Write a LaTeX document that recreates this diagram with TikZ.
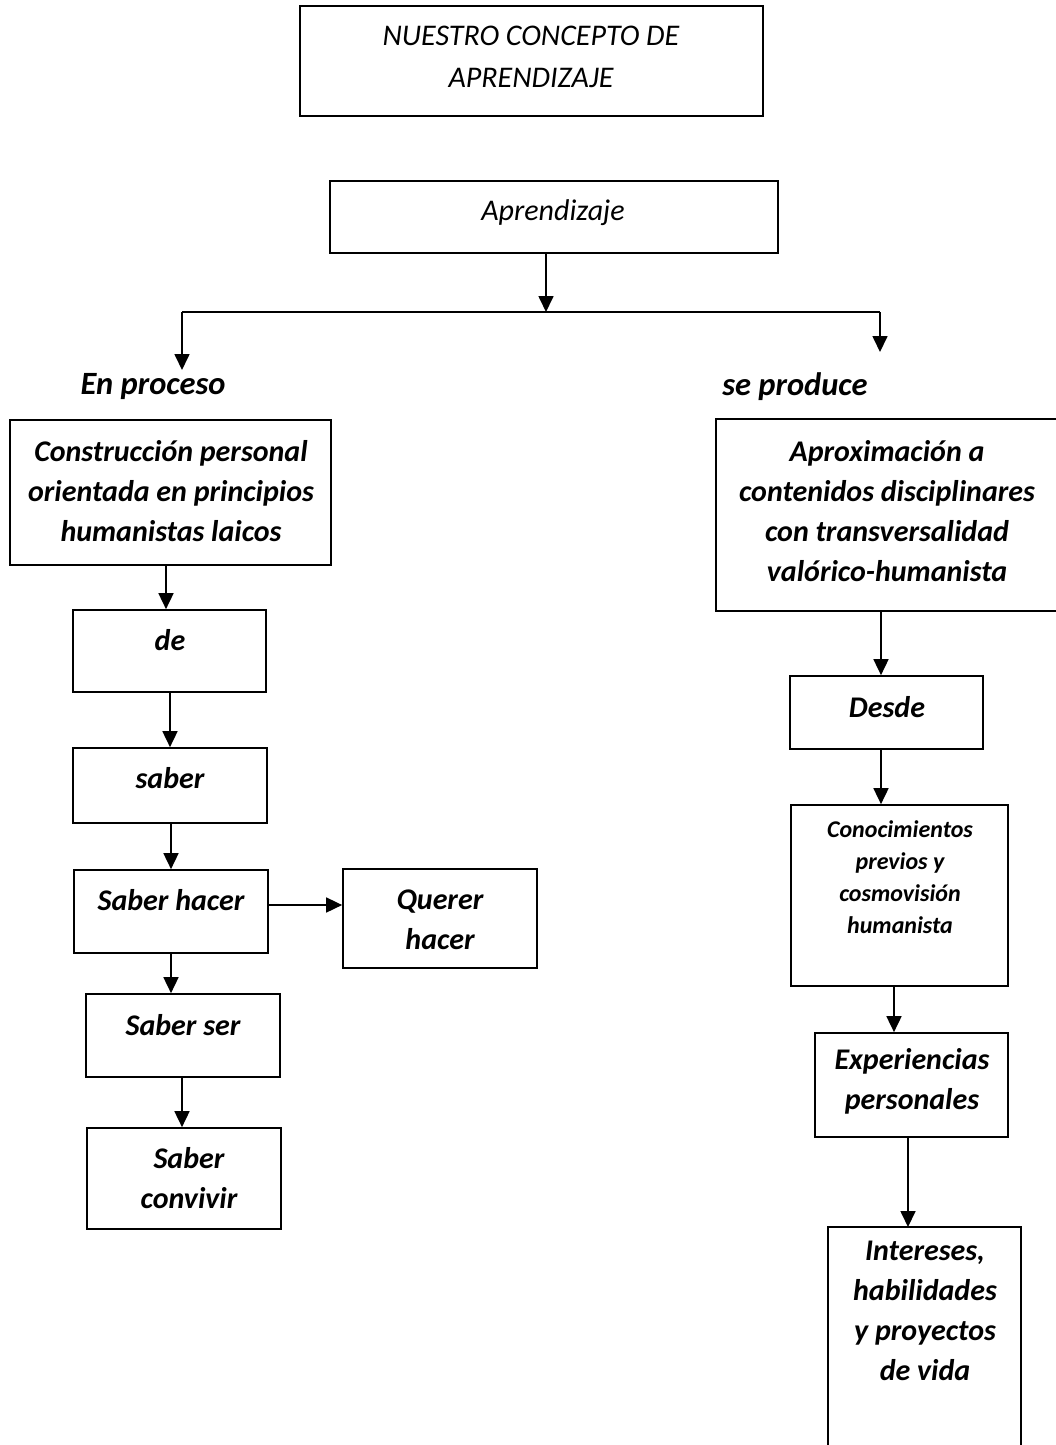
\documentclass[tikz,border=0pt]{standalone}
\usepackage{fontspec}
\setmainfont{Carlito}
\usetikzlibrary{arrows.meta}
\begin{document}
\begin{tikzpicture}[x=1pt,y=-1pt,
  box/.style={draw, line width=1.7pt},
  arr/.style={-{Triangle[length=16pt,width=15pt]}, line width=1.7pt},
  bt/.style={font=\fontsize{30}{40}\selectfont\bfseries\itshape, align=center, inner sep=0pt},
  lt/.style={font=\fontsize{32.5}{40}\selectfont\bfseries\itshape, align=center, inner sep=0pt},
  st/.style={font=\fontsize{24}{32}\selectfont\bfseries\itshape, align=center, inner sep=0pt},
  rt/.style={font=\fontsize{30}{42}\selectfont\itshape, align=center, inner sep=0pt}]
\useasboundingbox (0,0) rectangle (1055,1445);
% boxes
\node[box, minimum width=463pt, minimum height=110pt] (titleb) at (531.5,61) {};
\node[rt] (title) at (531,57) {NUESTRO CONCEPTO DE\\APRENDIZAJE};
\node[box, minimum width=448pt, minimum height=72pt] (aprb) at (554,217) {};
\node[rt] (apr) at (553,213) {Aprendizaje};
\coordinate (junc) at (546,312);
\coordinate (jl) at (182,312);
\coordinate (jr) at (880,312);
\coordinate (jle) at (182,370);
\coordinate (jre) at (880,352);
\node[lt] (enp) at (153,387) {En proceso};
\node[lt] (sep) at (795,387) {se produce};
% left column
\node[box, minimum width=321pt, minimum height=145pt] (cons) at (170.5,492.5) {};
\node[bt] (const) at (171,491) {Construcción personal\\orientada en principios\\humanistas laicos};
\node[box, minimum width=193pt, minimum height=82pt] (de) at (169.5,651) {};
\node[bt] (det) at (170,640) {de};
\node[box, minimum width=194pt, minimum height=75pt] (sab) at (170,785.5) {};
\node[bt] (sabt) at (170,778) {saber};
\node[box, minimum width=194pt, minimum height=83pt] (sh) at (171,911.5) {};
\node[bt] (sht) at (171,900) {Saber hacer};
\node[box, minimum width=194pt, minimum height=99pt] (qh) at (440,918.5) {};
\node[bt] (qht) at (440,920) {Querer\\hacer};
\node[box, minimum width=194pt, minimum height=83pt] (ss) at (183,1035.5) {};
\node[bt] (sst) at (183,1025) {Saber ser};
\node[box, minimum width=194pt, minimum height=101pt] (sc) at (184,1178.5) {};
\node[bt] (sct) at (189,1178) {Saber\\convivir};
% right column
\draw[box] (1062,419) -- (716,419) -- (716,611) -- (1062,611);
\coordinate (aprox) at (881,611);
\node[bt] (aproxt) at (887,511) {Aproximación a\\contenidos disciplinares\\con transversalidad\\valórico-humanista};
\node[box, minimum width=193pt, minimum height=73pt] (desde) at (886.5,712.5) {};
\node[bt] (desdet) at (887,707) {Desde};
\node[box, minimum width=217pt, minimum height=181pt] (con) at (899.5,895.5) {};
\node[st] (cont) at (900,877) {Conocimientos\\previos y\\cosmovisión\\humanista};
\node[box, minimum width=193pt, minimum height=104pt] (exp) at (911.5,1085) {};
\node[bt] (expt) at (912,1081) {Experiencias\\personales};
\draw[box] (828,1460) -- (828,1227) -- (1021,1227) -- (1021,1460);
\coordinate (intn) at (908,1227);
\node[bt] (intt) at (925,1311) {Intereses,\\habilidades\\y proyectos\\de vida};
% connectors
\draw[arr] (aprb.south -| junc) -- (junc);
\draw[line width=1.7pt] (jl) -- (jr);
\draw[arr] (jl) -- (jle);
\draw[arr] (jr) -- (jre);
\draw[arr] (cons.south -| 166,0) -- (de.north -| 166,0);
\draw[arr] (de.south -| 170,0) -- (sab.north -| 170,0);
\draw[arr] (sab.south -| 171,0) -- (sh.north -| 171,0);
\draw[arr] (sh.south -| 171,0) -- (ss.north -| 171,0);
\draw[arr] (ss.south -| 182,0) -- (sc.north -| 182,0);
\draw[arr] (sh.east |- 0,905) -- (qh.west |- 0,905);
\draw[arr] (aprox) -- (desde.north -| 881,0);
\draw[arr] (desde.south -| 881,0) -- (con.north -| 881,0);
\draw[arr] (con.south -| 894,0) -- (exp.north -| 894,0);
\draw[arr] (exp.south -| 908,0) -- (intn);
\end{tikzpicture}
\end{document}
